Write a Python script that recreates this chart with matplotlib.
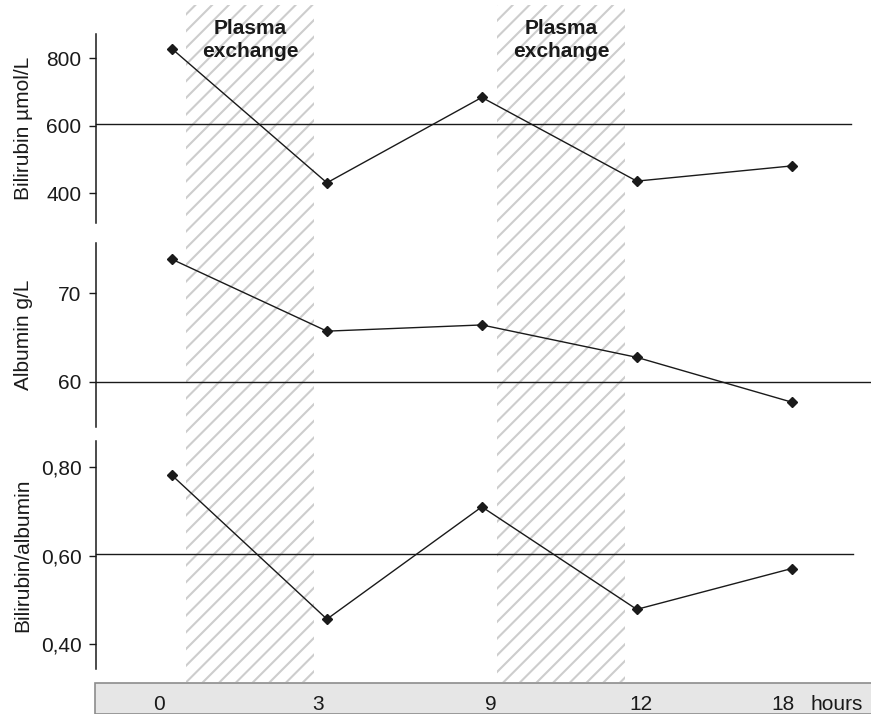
import matplotlib
matplotlib.use('Agg')
import numpy as np
import matplotlib.pyplot as plt
from matplotlib import transforms
from matplotlib.patches import Rectangle
from matplotlib.collections import LineCollection

# ---------------- data ----------------
times = ['0', '3', '9', '12', '18']
bilirubin = [828, 431, 684, 436, 481]
albumin = [73.8, 65.7, 66.4, 62.75, 57.7]
ratio = [0.781, 0.457, 0.710, 0.479, 0.571]
bili_ref = 605
alb_ref = 60
ratio_ref = 0.604
exchange_spans = [(0.09, 0.917), (2.096, 2.926)]
exchange_label = 'Plasma\nexchange'
bili_ticks = [400, 600, 800]
bili_ticklabels = ['400', '600', '800']
alb_ticks = [60, 70]
alb_ticklabels = ['60', '70']
ratio_ticks = [0.40, 0.60, 0.80]
ratio_ticklabels = ['0,40', '0,60', '0,80']
ylabels = ['Bilirubin µmol/L', 'Albumin g/L', 'Bilirubin/albumin']
unit_label = 'hours'

# ---------------- style ----------------
plt.rcParams['font.family'] = ['Liberation Sans', 'DejaVu Sans']
TXT = '#1a1a1a'
HATCH = '#cdcdcd'
HATCH_STEP_PX = 16.7
HATCH_LW = 1.5

W, H = 871, 714
fig = plt.figure(figsize=(W / 100, H / 100), dpi=100)

x = list(range(len(times)))
XLIM = (-0.4906, 4.383)
left = 96 / W
width = (851 - 96) / W

def rect(top_px, bot_px):
    return [left, (H - bot_px) / H, width, (bot_px - top_px) / H]

# hatched background (spans full height)
axbg = fig.add_axes(rect(5, 682), zorder=0)
axbg.set_xlim(*XLIM)
axbg.set_ylim(0, 1)
axbg.axis('off')
axpx = fig.add_axes([0, 0, 1, 1], zorder=0.5)
axpx.set_xlim(0, W)
axpx.set_ylim(0, H)
axpx.axis('off')
axpx.patch.set_alpha(0)
offsets = np.arange(-H, W + HATCH_STEP_PX, HATCH_STEP_PX)
for a, b in exchange_spans:
    span = axbg.axvspan(a, b, facecolor='none', edgecolor='none', linewidth=0)
    segs = [[(c, 0), (c + H, H)] for c in offsets]
    lc = LineCollection(segs, colors=HATCH, linewidths=HATCH_LW, capstyle='butt')
    axpx.add_collection(lc)
    lc.set_clip_path(span)

panels = [
    (rect(34.3, 223.3), bilirubin, bili_ref, (311, 871), bili_ticks, bili_ticklabels, 1.0),
    (rect(242.7, 426.7), albumin, alb_ref, (54.93, 75.67), alb_ticks, alb_ticklabels, 1.026),
    (rect(440.7, 669.3), ratio, ratio_ref, (0.344, 0.859), ratio_ticks, ratio_ticklabels, 1.003),
]

axes = []
for i, (r, vals, ref, ylim, ticks, tlabels, xmax) in enumerate(panels):
    ax = fig.add_axes(r, zorder=2)
    ax.patch.set_alpha(0)
    ax.set_xlim(*XLIM)
    ax.set_ylim(*ylim)
    for s in ['top', 'right', 'bottom']:
        ax.spines[s].set_visible(False)
    ax.spines['left'].set_linewidth(1.1)
    ax.spines['left'].set_color(TXT)
    ax.set_xticks([])
    ax.set_yticks(ticks)
    ax.set_yticklabels(tlabels)
    ax.tick_params(axis='y', length=5, width=1.0, pad=5.5, labelsize=15,
                   colors=TXT, direction='out')
    ax.axhline(ref, xmin=0, xmax=xmax, color=TXT, lw=1.0, clip_on=False, zorder=3)
    ax.plot(x, vals, color=TXT, lw=1.0, marker='D', markersize=5.2,
            markerfacecolor=TXT, markeredgecolor=TXT, zorder=4, clip_on=False)
    ax.set_ylabel(ylabels[i], fontsize=15, color=TXT)
    ax.yaxis.set_label_coords(-0.084, 0.5)
    axes.append(ax)

# plasma exchange labels
ax0 = axes[0]
tr = transforms.blended_transform_factory(ax0.transData, ax0.transAxes)
for a, b in exchange_spans:
    ax0.text((a + b) / 2, (223.3 - 40) / (223.3 - 34.3), exchange_label,
             transform=tr, ha='center', va='center', fontsize=15,
             fontweight='bold', color=TXT, linespacing=1.3, clip_on=False)

# bottom time band
axband = fig.add_axes([95 / W, 0, (W - 95) / W, 31 / H], zorder=1)
axband.axis('off')
axband.add_patch(Rectangle((0, 0), 1.2, 1, transform=axband.transAxes,
                           facecolor='#e6e6e6', edgecolor='#8c8c8c',
                           linewidth=1.2, clip_on=False))
trb = transforms.blended_transform_factory(axes[2].transData, axband.transAxes)
nudge = [-0.084, -0.058, 0.06, 0.03, -0.056]
for xi, lab, dx in zip(x, times, nudge):
    axband.text(xi + dx, 0.13, lab, transform=trb, ha='center', va='baseline',
                fontsize=15, color=TXT)
axband.text(x[-1] + 0.12, 0.13, unit_label, transform=trb, ha='left',
            va='baseline', fontsize=15, color=TXT)

fig.savefig('out.png', dpi=100)
